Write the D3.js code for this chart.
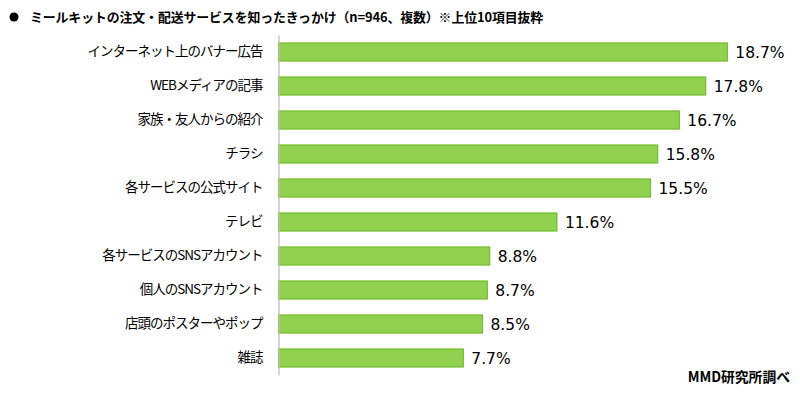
<!DOCTYPE html>
<html><head><meta charset="utf-8">
<script src="https://cdn.jsdelivr.net/npm/d3@7"></script>
<style>
html,body{margin:0;padding:0;background:#fff;}
svg{display:block;}
</style></head>
<body>
<svg id="chart" width="800" height="395"></svg>
<script>
const titleText = "ミールキットの注文・配送サービスを知ったきっかけ（n=946、複数）※上位10項目抜粋";
const sourceText = "MMD研究所調べ";
const categories = ["インターネット上のバナー広告","WEBメディアの記事","家族・友人からの紹介","チラシ","各サービスの公式サイト","テレビ","各サービスのSNSアカウント","個人のSNSアカウント","店頭のポスターやポップ","雑誌"];
const values = [18.7,17.8,16.7,15.8,15.5,11.6,8.8,8.7,8.5,7.7];

const svg = d3.select("#chart");
const jp = "'Noto Sans CJK JP','Noto Sans',sans-serif";

const x = d3.scaleLinear().domain([0,20]).range([278.5,758.5]);
const y = d3.scaleBand().domain(categories).range([35,375]).paddingInner(0.47).paddingOuter(0.235);

// title
svg.append("circle").attr("cx",14).attr("cy",17).attr("r",4.5).attr("fill","#000");
svg.append("text").attr("x",30).attr("y",22).attr("font-family",jp).attr("font-weight","bold")
  .attr("font-size",12.9).attr("letter-spacing","-0.1px").attr("fill","#000").text(titleText);

// bars
svg.selectAll("rect.bar").data(values).enter().append("rect")
  .attr("class","bar")
  .attr("x",x(0))
  .attr("y",(d,i)=>y(categories[i]))
  .attr("width",d=>x(d)-x(0))
  .attr("height",y.bandwidth())
  .attr("fill","#92D050").attr("stroke","#72BC2E").attr("stroke-width",1.2);

// value labels
svg.selectAll("text.val").data(values).enter().append("text")
  .attr("class","val")
  .attr("x",d=>x(d)+8)
  .attr("y",(d,i)=>y(categories[i])+y.bandwidth()/2)
  .attr("dy","0.36em")
  .attr("font-family","'DejaVu Sans',Verdana,sans-serif")
  .attr("font-size",15.5).attr("fill","#000")
  .text(d=>d.toFixed(1)+"%");

// axis
const axis = d3.axisLeft(y).tickSize(0).tickPadding(16);
const g = svg.append("g").attr("transform",`translate(${x(0)},0)`).call(axis);
g.select(".domain").attr("stroke","#BFBFBF").attr("stroke-width",1.3);
g.selectAll("text").attr("font-family",jp).attr("font-size",13.5).attr("letter-spacing","-1px").attr("fill","#000");

// source
svg.append("text").attr("x",790).attr("y",382).attr("text-anchor","end")
  .attr("font-family",jp).attr("font-weight","bold").attr("font-size",13.8).attr("fill","#000").text(sourceText);
</script>
</body></html>
